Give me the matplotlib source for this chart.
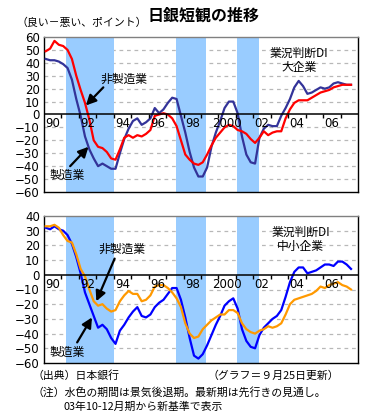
import numpy as np
import matplotlib
matplotlib.use("Agg")
import matplotlib.pyplot as plt

plt.rcParams["font.family"] = ["Noto Sans CJK JP", "DejaVu Sans"]

# ── data: quarterly Tankan DI, 1990Q1 .. 2007Q3 ──────────────────────────────
quarters = 1990.1 + 0.25 * np.arange(71)

large_mfg = [43, 42, 42, 41, 39, 36, 27, 12, -1, -17, -27, -34, -40, -38, -40, -42,
             -42, -30, -19, -11, -5, -3, -8, -6, -3, 5, 1, 4, 9, 13, 12, -1,
             -14, -29, -41, -48, -48, -41, -25, -14, -5, 5, 10, 10, 1, -17, -31, -37,
             -38, -18, -11, -8, -9, -9, -1, 5, 12, 21, 26, 22, 16, 17, 19, 21,
             20, 21, 24, 25, 24, 23, 23]
large_non = [49, 51, 57, 54, 53, 50, 43, 30, 19, 9, -4, -20, -25, -26, -29, -34,
             -35, -27, -18, -16, -18, -16, -17, -15, -12, -1, 0, 1, 0, -3, -9, -20,
             -31, -35, -38, -39, -37, -31, -24, -18, -14, -10, -8, -9, -12, -13, -15, -19,
             -22, -18, -13, -16, -14, -13, -13, -3, 4, 9, 11, 11, 11, 13, 15, 17,
             18, 19, 21, 22, 23, 23, 23]
small_mfg = [32, 31, 33, 31, 30, 27, 21, 12, 1, -12, -20, -28, -36, -34, -37, -43,
             -47, -38, -34, -29, -25, -22, -28, -29, -27, -22, -19, -17, -13, -9, -9, -17,
             -29, -43, -55, -57, -54, -48, -41, -34, -28, -21, -18, -16, -23, -37, -45, -49,
             -50, -41, -36, -33, -30, -28, -24, -15, -5, 2, 5, 5, 1, 2, 3, 5,
             7, 7, 6, 9, 9, 7, 4]
small_non = [33, 33, 34, 32, 27, 23, 22, 14, 4, -1, -10, -18, -21, -20, -23, -25,
             -24, -18, -14, -11, -13, -13, -18, -17, -14, -8, -7, -7, -9, -12, -16, -22,
             -33, -40, -43, -42, -37, -34, -31, -29, -27, -27, -24, -24, -26, -33, -37, -39,
             -40, -38, -37, -35, -36, -35, -33, -27, -20, -17, -16, -15, -14, -13, -11, -8,
             -9, -7, -6, -5, -7, -8, -10]

recessions = [(1991.25, 1994.0), (1997.55, 1999.3), (2001.05, 2002.3)]
tick_years = list(range(1991, 2008))
label_years = [1990, 1992, 1994, 1996, 1998, 2000, 2002, 2004, 2006]
year_labels = ["90", "92", "94", "96", "98", "2000", "02", "04", "06"]

SHADE = "#99ccff"
GRID = "#b8b8b8"

W, H = 389, 420
fig = plt.figure(figsize=(W / 100, H / 100), dpi=100)


def px(x, y):
    return x / W, 1 - y / H


def setup(ax, ylo, yhi, tick_len):
    ax.set_xlim(1990, 2008)
    ax.set_ylim(ylo, yhi)
    for a, b in recessions:
        ax.axvspan(a, b, color=SHADE, lw=0, zorder=1)
    for v in range(ylo + 10, yhi, 10):
        if v != 0:
            ax.axhline(v, color=GRID, lw=0.9, ls=(0, (3, 3)), zorder=0.5)
    ax.axhline(0, color="black", lw=1.1, zorder=4)
    ax.vlines(tick_years, -tick_len, 0, color="black", lw=1, zorder=4)
    for yr, lab in zip(label_years, year_labels):
        ax.annotate(lab, (yr + 0.5, 0), xytext=(0, -2), textcoords="offset points",
                    ha="center", va="top", fontsize=8.5, family="DejaVu Sans", zorder=5)
    ax.set_xticks([])
    ax.set_yticks(range(ylo, yhi + 1, 10))
    ax.tick_params(axis="y", length=0, pad=3, labelsize=8.5)
    for lab in ax.get_yticklabels():
        lab.set_family("DejaVu Sans")
    for s in ["left", "bottom", "right"]:
        ax.spines[s].set_color("black")
        ax.spines[s].set_linewidth(1.0)
    ax.spines["top"].set_color("#808080")
    ax.spines["top"].set_linewidth(1.0)


def arrow(ax, start, end):
    ax.annotate("", xy=end, xytext=start,
                arrowprops=dict(arrowstyle="-|>,head_length=0.6,head_width=0.3",
                                color="black", lw=1.6, shrinkA=0, shrinkB=0),
                zorder=6)


# ── top: large enterprises ───────────────────────────────────────────────────
ax1 = fig.add_axes([44 / W, 1 - 192 / H, 314 / W, 155 / H])
setup(ax1, -60, 60, 3)
ax1.plot(quarters, large_mfg, color="#333399", lw=1.6, zorder=3)
ax1.plot(quarters, large_non, color="#ff0000", lw=1.6, zorder=3)
ax1.text(1994.6, 27, "非製造業", ha="center", va="center", fontsize=8.5, zorder=6)
arrow(ax1, (1993.4, 21), (1992.4, 7))
ax1.text(1991.3, -47, "製造業", ha="center", va="center", fontsize=8.5, zorder=6)
arrow(ax1, (1991.5, -40), (1992.55, -25))
ax1.text(2004.6, 42, "業況判断DI\n大企業", ha="center", va="center", fontsize=8.5,
         linespacing=1.1, zorder=6)

# ── bottom: small enterprises ────────────────────────────────────────────────
ax2 = fig.add_axes([44 / W, 1 - 363 / H, 314 / W, 147 / H])
setup(ax2, -60, 40, 2.7)
ax2.plot(quarters, small_mfg, color="#0000ff", lw=1.6, zorder=3)
ax2.plot(quarters, small_non, color="#ff9900", lw=1.6, zorder=3)
ax2.text(1994.5, 17, "非製造業", ha="center", va="center", fontsize=8.5, zorder=6)
arrow(ax2, (1994.05, 11), (1993.0, -18))
ax2.text(1991.3, -53, "製造業", ha="center", va="center", fontsize=8.5, zorder=6)
arrow(ax2, (1991.9, -46), (1992.75, -29))
ax2.text(2004.7, 24, "業況判断DI\n中小企業", ha="center", va="center", fontsize=8.5,
         linespacing=1.1, zorder=6)

# ── titles and notes ─────────────────────────────────────────────────────────
fig.text(*px(204, 16), "日銀短観の推移", ha="center", va="center",
         fontsize=11.5, fontweight="bold")
fig.text(*px(17, 23), "（良い－悪い、ポイント）", ha="left", va="center", fontsize=7.8)
fig.text(*px(32, 376), "（出典）日本銀行", ha="left", va="center", fontsize=7.8)
fig.text(*px(208, 376), "（グラフ＝９月25日更新）", ha="left", va="center", fontsize=7.8)
fig.text(*px(32, 392), "（注）水色の期間は景気後退期。最新期は先行きの見通し。",
         ha="left", va="center", fontsize=7.8)
fig.text(*px(64, 407), "03年10-12月期から新基準で表示", ha="left", va="center",
         fontsize=7.8)

fig.savefig("out.png", dpi=100)
